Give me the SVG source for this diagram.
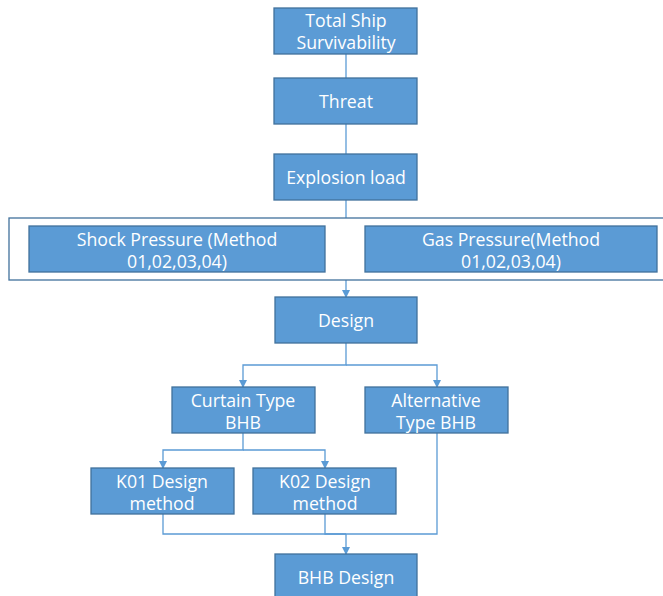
<svg xmlns="http://www.w3.org/2000/svg" width="663" height="596" viewBox="0 0 663 596">
<defs>
<style>
.box{fill:#5B9BD5;stroke:#41719C;stroke-width:1.3}
.t{font-family:"Open Sans","Noto Sans",sans-serif;font-size:17.7px;fill:#ffffff;text-anchor:middle}
.c{fill:none;stroke:#5B9BD5;stroke-width:1.3}
</style>
<marker id="ah" markerWidth="8" markerHeight="8" refX="7" refY="4" orient="auto" markerUnits="userSpaceOnUse">
<path d="M0,0 L8,4 L0,8 Z" fill="#5B9BD5"/>
</marker>
</defs>
<rect width="663" height="596" fill="#ffffff"/>
<g id="connectors">
<path class="c" d="M346,54 V78"/>
<path class="c" d="M346,124 V154"/>
<path class="c" d="M346,200 V218"/>
<path class="c" d="M346,280 V297" marker-end="url(#ah)"/>
<path class="c" d="M346,343 V365 H243 V387" marker-end="url(#ah)"/>
<path class="c" d="M346,365 H437 V387" marker-end="url(#ah)"/>
<path class="c" d="M243,433 V450 H163 V468" marker-end="url(#ah)"/>
<path class="c" d="M243,450 H325 V468" marker-end="url(#ah)"/>
<path class="c" d="M163,514 V534 H346"/>
<path class="c" d="M325,514 V534 H346"/>
<path class="c" d="M437,433 V534 H346"/>
<path class="c" d="M346,534 V554" marker-end="url(#ah)"/>
</g>
<g id="n-total"><rect class="box" x="274" y="8" width="143" height="46"/><text class="t" x="346" y="27">Total Ship</text><text class="t" x="346" y="49">Survivability</text></g>
<g id="n-threat"><rect class="box" x="274" y="78" width="143" height="46"/><text class="t" x="346" y="108">Threat</text></g>
<g id="n-explosion"><rect class="box" x="274" y="154" width="143" height="46"/><text class="t" x="346" y="184">Explosion load</text></g>
<g id="n-loads"><rect x="9" y="218" width="660" height="62" fill="#ffffff" stroke="#41719C" stroke-width="1.3"/></g>
<g id="n-shock"><rect class="box" x="29" y="226" width="296" height="46"/><text class="t" x="177" y="246">Shock Pressure (Method</text><text class="t" x="177" y="268">01,02,03,04)</text></g>
<g id="n-gas"><rect class="box" x="365" y="226" width="292" height="46"/><text class="t" x="511" y="246">Gas Pressure(Method</text><text class="t" x="511" y="268">01,02,03,04)</text></g>
<g id="n-design"><rect class="box" x="275" y="297" width="142" height="46"/><text class="t" x="346" y="327">Design</text></g>
<g id="n-curtain"><rect class="box" x="172" y="387" width="143" height="46"/><text class="t" x="243" y="407">Curtain Type</text><text class="t" x="243" y="429">BHB</text></g>
<g id="n-alt"><rect class="box" x="365" y="387" width="143" height="46"/><text class="t" x="436" y="407">Alternative</text><text class="t" x="436" y="429">Type BHB</text></g>
<g id="n-k01"><rect class="box" x="91" y="468" width="143" height="46"/><text class="t" x="162" y="488">K01 Design</text><text class="t" x="162" y="510">method</text></g>
<g id="n-k02"><rect class="box" x="253" y="468" width="143" height="46"/><text class="t" x="325" y="488">K02 Design</text><text class="t" x="325" y="510">method</text></g>
<g id="n-bhb"><rect class="box" x="275" y="554" width="142" height="46"/><text class="t" x="346" y="584">BHB Design</text></g>
</svg>
